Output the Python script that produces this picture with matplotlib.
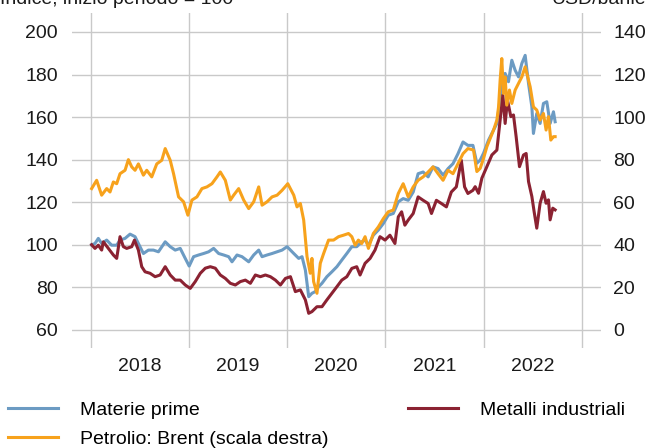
import numpy as np
import matplotlib
matplotlib.use("Agg")
import matplotlib.pyplot as plt

plt.rcParams['font.family'] = ['Liberation Sans', 'DejaVu Sans']

# Materie prime (indice, inizio periodo = 100)
mat_x = [2018.010, 2018.044, 2018.078, 2018.112, 2018.163, 2018.214, 2018.265, 2018.299,
         2018.350, 2018.401, 2018.452, 2018.486, 2018.537, 2018.588, 2018.639, 2018.690,
         2018.759, 2018.810, 2018.861, 2018.912, 2018.963, 2019.003, 2019.048, 2019.099,
         2019.150, 2019.201, 2019.252, 2019.303, 2019.354, 2019.405, 2019.439, 2019.490,
         2019.541, 2019.609, 2019.660, 2019.711, 2019.745, 2019.796, 2019.847, 2019.898,
         2019.949, 2020.000, 2020.068, 2020.118, 2020.152, 2020.186, 2020.220, 2020.253,
         2020.287, 2020.321, 2020.355, 2020.405, 2020.456, 2020.507, 2020.557, 2020.608,
         2020.659, 2020.709, 2020.760, 2020.794, 2020.828, 2020.878, 2020.929, 2020.980,
         2021.030, 2021.081, 2021.132, 2021.182, 2021.233, 2021.284, 2021.334, 2021.385,
         2021.436, 2021.486, 2021.537, 2021.588, 2021.639, 2021.689, 2021.740, 2021.791,
         2021.841, 2021.892, 2021.932, 2021.966, 2022.000, 2022.051, 2022.102, 2022.136,
         2022.163, 2022.186, 2022.220, 2022.254, 2022.288, 2022.322, 2022.356, 2022.390,
         2022.424, 2022.458, 2022.492, 2022.508, 2022.542, 2022.576, 2022.610, 2022.644,
         2022.678, 2022.712, 2022.729]
mat_y = [100.0, 100.6, 103.0, 100.6, 102.2, 99.8, 99.8, 102.2,
         103.0, 105.0, 103.8, 100.6, 95.9, 97.5, 97.5, 96.7,
         101.4, 99.1, 97.5, 98.3, 93.6, 90.0, 94.4, 95.2,
         95.9, 96.7, 98.3, 95.9, 95.2, 94.4, 92.0, 95.2,
         94.4, 92.0, 95.2, 97.5, 94.4, 95.2, 95.9, 96.7,
         97.5, 99.1, 95.9, 93.6, 94.4, 88.1, 75.6, 77.2,
         78.0, 80.3, 81.9, 85.0, 87.3, 89.7, 92.8, 95.9,
         99.1, 99.1, 101.4, 102.2, 99.8, 104.5, 106.9, 110.0,
         113.9, 114.7, 120.2, 121.7, 120.9, 124.8, 133.4, 134.2,
         131.9, 136.6, 135.8, 132.7, 135.8, 138.1, 142.8, 148.3,
         146.7, 146.7, 138.3, 139.8, 143.0, 149.2, 153.9, 157.0,
         166.4, 175.8, 180.5, 176.6, 186.7, 182.0, 178.9, 185.2,
         189.0, 175.8, 164.8, 152.3, 161.7, 157.0, 166.4, 167.2,
         157.0, 162.5, 157.8]

# Metalli industriali
met_x = [2018.010, 2018.044, 2018.078, 2018.112, 2018.129, 2018.180, 2018.231, 2018.265,
         2018.299, 2018.333, 2018.367, 2018.418, 2018.446, 2018.486, 2018.520, 2018.554,
         2018.605, 2018.656, 2018.707, 2018.759, 2018.810, 2018.861, 2018.912, 2018.963,
         2019.014, 2019.065, 2019.116, 2019.167, 2019.218, 2019.269, 2019.320, 2019.371,
         2019.422, 2019.473, 2019.524, 2019.575, 2019.626, 2019.677, 2019.728, 2019.779,
         2019.830, 2019.881, 2019.932, 2019.983, 2020.034, 2020.084, 2020.135, 2020.186,
         2020.220, 2020.253, 2020.304, 2020.355, 2020.405, 2020.456, 2020.507, 2020.557,
         2020.608, 2020.659, 2020.709, 2020.743, 2020.794, 2020.845, 2020.895, 2020.946,
         2020.997, 2021.047, 2021.098, 2021.132, 2021.166, 2021.199, 2021.233, 2021.284,
         2021.334, 2021.385, 2021.436, 2021.470, 2021.520, 2021.571, 2021.622, 2021.672,
         2021.723, 2021.774, 2021.807, 2021.841, 2021.892, 2021.915, 2021.949, 2021.983,
         2022.034, 2022.085, 2022.136, 2022.169, 2022.197, 2022.220, 2022.244, 2022.278,
         2022.305, 2022.332, 2022.366, 2022.407, 2022.434, 2022.458, 2022.492, 2022.515,
         2022.542, 2022.576, 2022.610, 2022.637, 2022.661, 2022.678, 2022.705, 2022.729]
met_y = [100.0, 98.3, 99.8, 97.5, 101.4, 98.3, 95.2, 93.6,
         103.8, 99.1, 98.3, 99.1, 102.2, 97.5, 89.7, 87.3,
         86.6, 85.0, 85.8, 89.7, 85.8, 83.4, 83.4, 81.1,
         79.5, 82.7, 86.6, 89.0, 89.7, 89.0, 85.8, 84.2,
         81.9, 81.1, 82.7, 83.4, 81.9, 85.8, 85.0, 85.8,
         85.0, 83.4, 81.1, 84.2, 85.0, 78.0, 78.8, 74.1,
         67.8, 68.6, 70.9, 70.9, 74.1, 77.2, 80.3, 83.4,
         85.0, 88.9, 89.7, 85.8, 91.3, 93.6, 97.5, 103.8,
         102.2, 104.5, 100.6, 113.1, 115.5, 109.2, 111.6, 114.7,
         122.5, 120.9, 119.4, 114.7, 120.9, 119.4, 117.8, 124.8,
         127.2, 139.7, 127.2, 124.1, 125.6, 127.3, 124.2, 131.3,
         136.7, 142.2, 144.5, 158.6, 170.3, 157.0, 168.0, 160.2,
         161.0, 150.8, 136.7, 142.2, 142.9, 129.7, 122.7, 115.6,
         107.8, 119.5, 125.0, 119.5, 121.1, 111.7, 117.2, 116.4]

# Petrolio: Brent (USD/barile, scala destra)
brent_x = [2018.010, 2018.061, 2018.112, 2018.163, 2018.197, 2018.231, 2018.265, 2018.299,
           2018.350, 2018.384, 2018.418, 2018.452, 2018.486, 2018.537, 2018.571, 2018.622,
           2018.673, 2018.724, 2018.759, 2018.810, 2018.844, 2018.895, 2018.946, 2018.990,
           2019.031, 2019.082, 2019.133, 2019.184, 2019.235, 2019.286, 2019.320, 2019.371,
           2019.422, 2019.456, 2019.507, 2019.558, 2019.609, 2019.660, 2019.711, 2019.745,
           2019.796, 2019.847, 2019.898, 2019.949, 2020.007, 2020.068, 2020.101, 2020.135,
           2020.169, 2020.203, 2020.236, 2020.253, 2020.270, 2020.304, 2020.338, 2020.372,
           2020.422, 2020.473, 2020.524, 2020.574, 2020.625, 2020.659, 2020.693, 2020.726,
           2020.760, 2020.794, 2020.828, 2020.878, 2020.929, 2020.980, 2021.030, 2021.081,
           2021.132, 2021.182, 2021.233, 2021.284, 2021.334, 2021.385, 2021.436, 2021.486,
           2021.537, 2021.588, 2021.639, 2021.689, 2021.740, 2021.791, 2021.841, 2021.898,
           2021.932, 2021.966, 2022.000, 2022.034, 2022.068, 2022.102, 2022.136, 2022.153,
           2022.169, 2022.186, 2022.203, 2022.220, 2022.237, 2022.264, 2022.288, 2022.322,
           2022.356, 2022.390, 2022.424, 2022.441, 2022.475, 2022.508, 2022.542, 2022.576,
           2022.610, 2022.637, 2022.661, 2022.685, 2022.712, 2022.729]
brent_y = [66.4, 70.3, 63.3, 66.4, 64.8, 69.5, 68.7, 73.4,
           75.0, 80.0, 76.6, 75.0, 78.0, 72.7, 75.0, 71.9,
           78.0, 79.7, 85.2, 79.7, 73.4, 62.5, 60.2, 53.9,
           61.0, 62.5, 66.4, 67.2, 68.7, 71.9, 74.2, 70.3,
           61.0, 63.3, 66.4, 61.0, 57.0, 60.2, 67.2, 58.6,
           60.2, 62.5, 63.3, 65.6, 68.7, 63.3, 57.8, 59.4,
           51.6, 34.4, 26.6, 33.6, 22.7, 17.2, 31.3, 35.9,
           42.2, 42.2, 43.8, 44.5, 45.3, 43.8, 39.8, 42.2,
           40.6, 43.8, 38.3, 45.3, 48.4, 52.3, 55.5, 56.3,
           64.1, 68.7, 62.5, 67.2, 70.3, 71.9, 74.2, 76.6,
           73.4, 70.3, 75.0, 73.4, 78.1, 82.8, 85.2, 84.5,
           74.4, 75.9, 80.6, 86.1, 90.0, 93.9, 98.6, 104.8,
           117.3, 127.5, 111.1, 118.9, 105.6, 112.7, 106.4, 112.7,
           115.8, 118.9, 123.6, 120.5, 114.2, 104.8, 103.3, 98.6,
           101.7, 93.9, 100.2, 89.2, 90.8, 90.8]

years = [2018, 2019, 2020, 2021, 2022]
left_ticks = [60, 80, 100, 120, 140, 160, 180, 200]
right_ticks = [0, 20, 40, 60, 80, 100, 120, 140]

c_mat = '#6c9bc3'
c_met = '#8b2232'
c_brent = '#f7a21c'
grid_c = '#c9c9c9'
fs = 14

W, H = 646, 448
fig = plt.figure(figsize=(W / 100, H / 100), dpi=100)
ax = fig.add_axes([72 / W, 1 - 348 / H, (601 - 72) / W, (348 - 13) / H])
ax2 = ax.twinx()

l1, = ax.plot(mat_x, mat_y, color=c_mat, lw=2.2, label='Materie prime')
l2, = ax.plot(met_x, met_y, color=c_met, lw=2.2, label='Metalli industriali')
l3, = ax2.plot(brent_x, brent_y, color=c_brent, lw=2.2, label='Petrolio: Brent (scala destra)')

ax.set_xlim(2017.81, 2023.196)
ax.set_ylim(51.5, 208.9)
ax2.set_ylim(51.5 - 60, 208.9 - 60)

ax.set_yticks(left_ticks)
ax2.set_yticks(right_ticks)
ax.set_xticks(years + [2023])
ax.set_xticks([y + 0.5 for y in years], minor=True)
ax.set_xticklabels([])
ax.set_xticklabels([str(y) for y in years], minor=True)

ax.grid(True, which='major', color=grid_c, lw=1.0)
ax.set_axisbelow(True)
for a in (ax, ax2):
    for s in a.spines.values():
        s.set_visible(False)
ax.tick_params(axis='both', which='both', length=0, labelsize=fs, colors='#1a1a1a')
ax.tick_params(axis='y', pad=10)
ax.tick_params(axis='x', which='minor', pad=7)
ax2.tick_params(axis='y', length=0, labelsize=fs, colors='#1a1a1a', pad=9)

fig.text(0, 1 - 4 / H, 'Indice, inizio periodo = 100', fontsize=fs, ha='left', va='baseline', color='#1a1a1a')
fig.text(1, 1 - 4 / H, 'USD/barile', fontsize=fs, ha='right', va='baseline', color='#1a1a1a')

fig.legend(handles=[l1, l3, l2], loc='upper left', bbox_to_anchor=(8 / W, 1 - 401 / H),
           ncol=2, frameon=False, fontsize=fs, handlelength=2.55, handletextpad=1.15,
           columnspacing=4.1, labelspacing=0.6, borderpad=0, borderaxespad=0)

fig.savefig('out.png', dpi=100)
